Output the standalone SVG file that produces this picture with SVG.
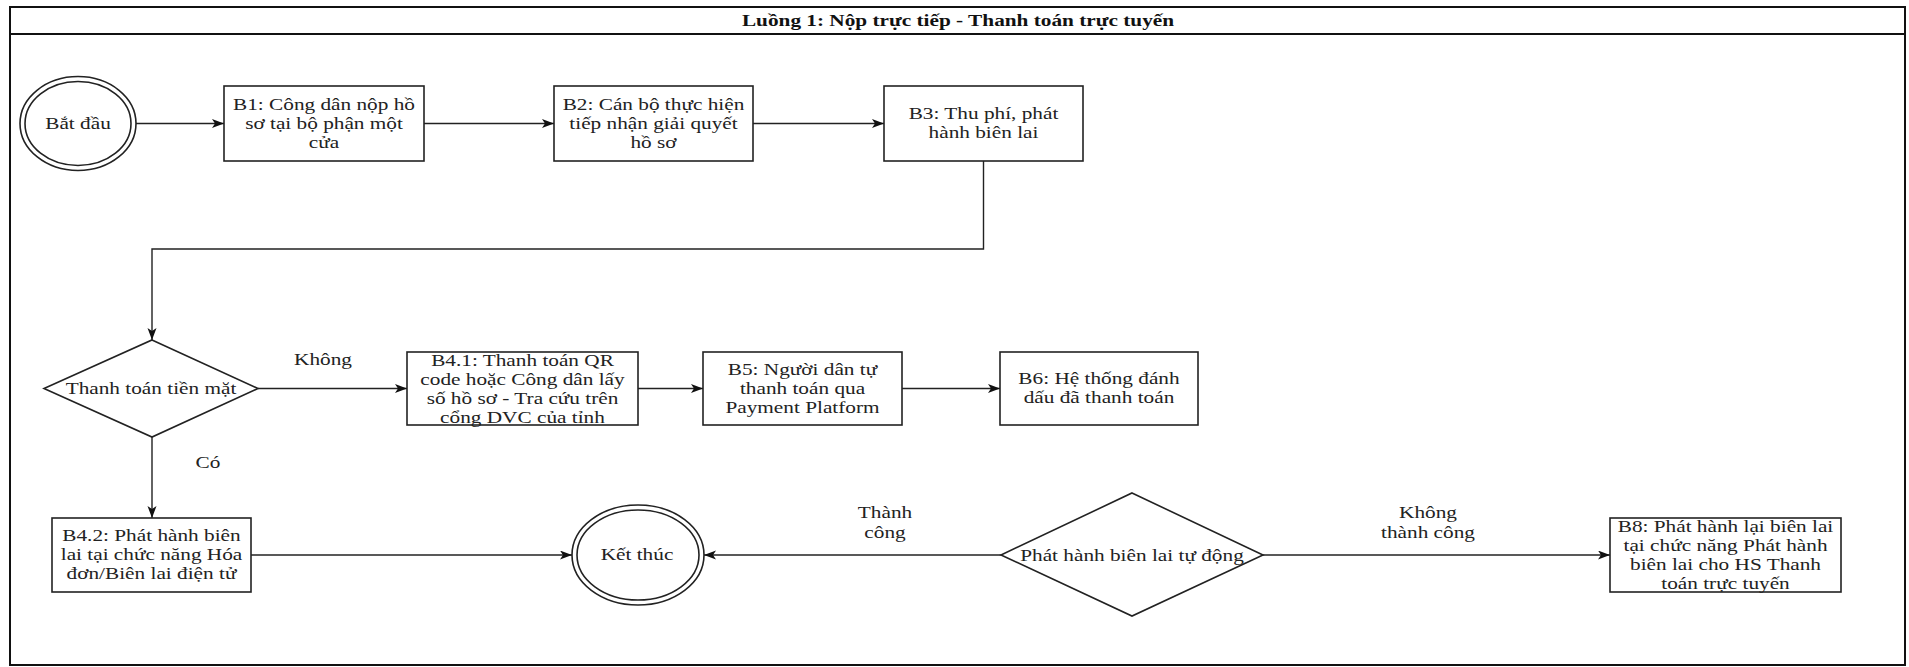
<svg xmlns="http://www.w3.org/2000/svg" width="1909" height="667" viewBox="0 0 1909 667">
<style>
.frame{fill:#fff;stroke:#111;stroke-width:2}
.box{fill:#fff;stroke:#222;stroke-width:1.6}
.ln{fill:none;stroke:#222;stroke-width:1.4}
.t{font-family:"Liberation Serif","Times New Roman",serif;font-size:16px;fill:#222;text-anchor:middle}
.title{font-family:"Liberation Serif","Times New Roman",serif;font-size:16px;font-weight:bold;fill:#111;text-anchor:middle}
</style>
<defs>
<marker id="arr" markerWidth="13" markerHeight="10" refX="12" refY="4.5" orient="auto" markerUnits="userSpaceOnUse">
<path d="M0,0 L12,4.5 L0,9 L3,4.5 Z" fill="#111"/>
</marker>
</defs>
<rect width="1909" height="667" fill="#fff"/>
<g id="frame">
<rect class="frame" x="10" y="7" width="1895" height="658"/>
<line x1="10" y1="34" x2="1905" y2="34" stroke="#111" stroke-width="2"/>
<text class="title" transform="translate(958 0) scale(1.33 1)" x="0" y="26">Luồng 1: Nộp trực tiếp - Thanh toán trực tuyến</text>
</g>
<g id="connectors">
<line class="ln" x1="136" y1="123.5" x2="224" y2="123.5" marker-end="url(#arr)"/>
<line class="ln" x1="424" y1="123.5" x2="554" y2="123.5" marker-end="url(#arr)"/>
<line class="ln" x1="753" y1="123.5" x2="884" y2="123.5" marker-end="url(#arr)"/>
<polyline class="ln" points="983.5,161 983.5,249 152,249 152,340" marker-end="url(#arr)"/>
<line class="ln" x1="258" y1="388.5" x2="407" y2="388.5" marker-end="url(#arr)"/>
<line class="ln" x1="638" y1="388.5" x2="703" y2="388.5" marker-end="url(#arr)"/>
<line class="ln" x1="902" y1="388.5" x2="1000" y2="388.5" marker-end="url(#arr)"/>
<line class="ln" x1="152" y1="437" x2="152" y2="518" marker-end="url(#arr)"/>
<line class="ln" x1="251" y1="555" x2="572" y2="555" marker-end="url(#arr)"/>
<line class="ln" x1="1001" y1="555" x2="704" y2="555" marker-end="url(#arr)"/>
<line class="ln" x1="1263" y1="555" x2="1610" y2="555" marker-end="url(#arr)"/>
<text class="t" transform="translate(323 0) scale(1.33 1)" x="0" y="365">Không</text>
<text class="t" transform="translate(208 0) scale(1.33 1)" x="0" y="468">Có</text>
<text class="t" transform="translate(885 0) scale(1.33 1)"><tspan x="0" y="518">Thành</tspan><tspan x="0" y="538">công</tspan></text>
<text class="t" transform="translate(1428 0) scale(1.33 1)"><tspan x="0" y="518">Không</tspan><tspan x="0" y="538">thành công</tspan></text>
</g>
<g id="start">
<ellipse class="box" cx="78" cy="123.5" rx="58" ry="47"/>
<ellipse class="box" cx="78" cy="123.5" rx="53" ry="42"/>
<text class="t" transform="translate(78 0) scale(1.33 1)" x="0" y="129">Bắt đầu</text>
</g>
<g id="b1">
<rect class="box" x="224" y="86" width="200" height="75"/>
<text class="t" transform="translate(324 0) scale(1.33 1)"><tspan x="0" y="110">B1: Công dân nộp hồ</tspan><tspan x="0" y="129">sơ tại bộ phận một</tspan><tspan x="0" y="148">cửa</tspan></text>
</g>
<g id="b2">
<rect class="box" x="554" y="86" width="199" height="75"/>
<text class="t" transform="translate(653.5 0) scale(1.33 1)"><tspan x="0" y="110">B2: Cán bộ thực hiện</tspan><tspan x="0" y="129">tiếp nhận giải quyết</tspan><tspan x="0" y="148">hồ sơ</tspan></text>
</g>
<g id="b3">
<rect class="box" x="884" y="86" width="199" height="75"/>
<text class="t" transform="translate(983.5 0) scale(1.33 1)"><tspan x="0" y="119.5">B3: Thu phí, phát</tspan><tspan x="0" y="138.5">hành biên lai</tspan></text>
</g>
<g id="d1">
<polygon class="box" points="152,340 258,388.5 152,437 44,388.5"/>
<text class="t" transform="translate(151 0) scale(1.33 1)" x="0" y="394">Thanh toán tiền mặt</text>
</g>
<g id="b41">
<rect class="box" x="407" y="352" width="231" height="73"/>
<text class="t" transform="translate(522.5 0) scale(1.33 1)"><tspan x="0" y="366">B4.1: Thanh toán QR</tspan><tspan x="0" y="385">code hoặc Công dân lấy</tspan><tspan x="0" y="404">số hồ sơ - Tra cứu trên</tspan><tspan x="0" y="423">cổng DVC của tỉnh</tspan></text>
</g>
<g id="b5">
<rect class="box" x="703" y="352" width="199" height="73"/>
<text class="t" transform="translate(802.5 0) scale(1.33 1)"><tspan x="0" y="375">B5: Người dân tự</tspan><tspan x="0" y="394">thanh toán qua</tspan><tspan x="0" y="413">Payment Platform</tspan></text>
</g>
<g id="b6">
<rect class="box" x="1000" y="352" width="198" height="73"/>
<text class="t" transform="translate(1099 0) scale(1.33 1)"><tspan x="0" y="384">B6: Hệ thống đánh</tspan><tspan x="0" y="403">dấu đã thanh toán</tspan></text>
</g>
<g id="b42">
<rect class="box" x="52" y="518" width="199" height="74"/>
<text class="t" transform="translate(151.5 0) scale(1.33 1)"><tspan x="0" y="541">B4.2: Phát hành biên</tspan><tspan x="0" y="560">lai tại chức năng Hóa</tspan><tspan x="0" y="579">đơn/Biên lai điện tử</tspan></text>
</g>
<g id="end">
<ellipse class="box" cx="638" cy="555" rx="66" ry="50"/>
<ellipse class="box" cx="638" cy="555" rx="61" ry="45"/>
<text class="t" transform="translate(637 0) scale(1.33 1)" x="0" y="560">Kết thúc</text>
</g>
<g id="d2">
<polygon class="box" points="1132,493 1263,555 1132,616 1001,555"/>
<text class="t" transform="translate(1132 0) scale(1.33 1)" x="0" y="561">Phát hành biên lai tự động</text>
</g>
<g id="b8">
<rect class="box" x="1610" y="518" width="231" height="74"/>
<text class="t" transform="translate(1725.5 0) scale(1.33 1)"><tspan x="0" y="532">B8: Phát hành lại biên lai</tspan><tspan x="0" y="551">tại chức năng Phát hành</tspan><tspan x="0" y="570">biên lai cho HS Thanh</tspan><tspan x="0" y="589">toán trực tuyến</tspan></text>
</g>
</svg>
